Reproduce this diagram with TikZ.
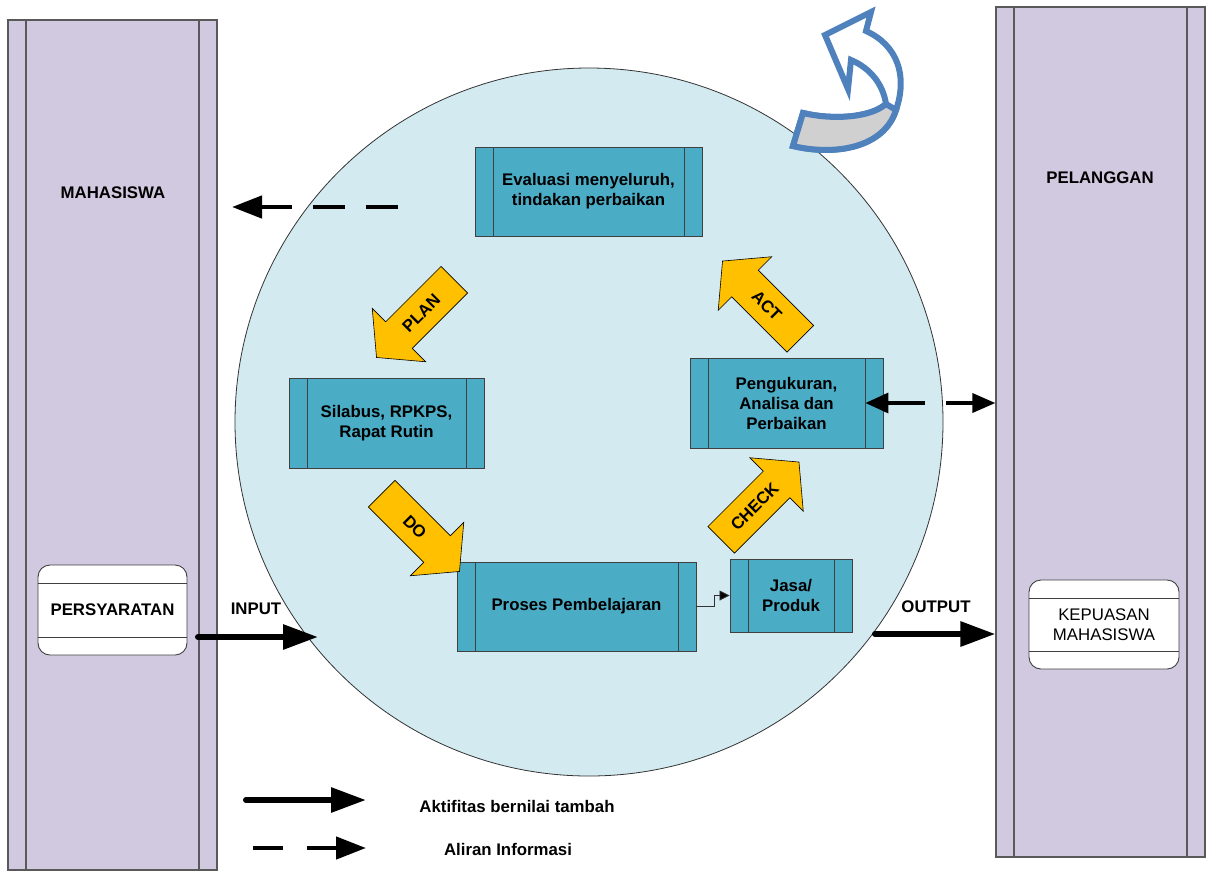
\documentclass[tikz,border=0pt]{standalone}
\usepackage{fontspec}
\setmainfont{Liberation Sans}
\usetikzlibrary{arrows.meta,shapes.arrows,positioning}

\definecolor{lanefill}{RGB}{209,201,224}
\definecolor{cyclefill}{RGB}{210,234,240}
\definecolor{procfill}{RGB}{75,172,198}
\definecolor{pdcagold}{RGB}{255,192,0}
\definecolor{turnblue}{RGB}{79,129,189}
\definecolor{bandgrey}{RGB}{208,208,208}

\newcommand\boldtext{\fontsize{16.8pt}{20pt}\selectfont\bfseries}
\newcommand\plaintext{\fontsize{16.8pt}{20pt}\selectfont}

\tikzset{
  lane/.style={draw=black!65, line width=1.2pt, fill=lanefill, inner sep=0pt,
    minimum width=209pt, minimum height=850pt,
    path picture={
      \draw[black!65, line width=1.2pt]
        ([xshift=18pt]path picture bounding box.north west) -- ([xshift=18pt]path picture bounding box.south west)
        ([xshift=-18pt]path picture bounding box.north east) -- ([xshift=-18pt]path picture bounding box.south east);}},
  procbox/.style={draw=black!75, line width=0.9pt, fill=procfill, inner sep=0pt,
    align=center, font=\boldtext,
    path picture={
      \draw[black!75, line width=0.9pt]
        ([xshift=18pt]path picture bounding box.north west) -- ([xshift=18pt]path picture bounding box.south west)
        ([xshift=-18pt]path picture bounding box.north east) -- ([xshift=-18pt]path picture bounding box.south east);}},
  databox/.style={draw=black!75, line width=0.9pt, fill=white, rounded corners=12pt,
    inner sep=0pt, align=center,
    path picture={
      \draw[black!75, line width=0.9pt]
        ([yshift=-18pt]path picture bounding box.north west) -- ([yshift=-18pt]path picture bounding box.north east)
        ([yshift=18pt]path picture bounding box.south west) -- ([yshift=18pt]path picture bounding box.south east);}},
  pdca/.style={single arrow, draw=black, line width=0.6pt, fill=pdcagold, font=\boldtext,
    text height=12pt, text depth=0pt, inner xsep=4pt, inner ysep=12.5pt,
    minimum height=110pt, single arrow head extend=19pt, single arrow tip angle=100},
  lanetext/.style={font=\boldtext},
  flow/.style={line width=6pt, line cap=round, -{Triangle[length=35pt,width=24pt]}},
  info/.style={line width=4.5pt, dash pattern=on 32pt off 21pt, -{Triangle[length=30pt,width=22pt]}},
}

\begin{document}
\begin{tikzpicture}[x=1pt, y=-1pt]
  \useasboundingbox (0,0) rectangle (1207,871);

  % lanes and cycle
  \node[lane] (mhs) at (112.5,445) {};
  \node[lane] (plg) at (1100.5,432) {};
  \node[circle, draw=black!80, line width=0.8pt, fill=cyclefill, minimum size=708pt, inner sep=0pt] (siklus) at (589,422) {};

  \node[lanetext] (mhs text) at (113,193) {MAHASISWA};
  \node[lanetext] (plg text) at (1100,178) {PELANGGAN};

  % process boxes
  \node[procbox, minimum width=227pt, minimum height=89pt] (evaluasi) at (588.5,191.5) {Evaluasi menyeluruh,\\tindakan perbaikan};
  \node[procbox, minimum width=195pt, minimum height=90pt] (silabus) at (386.5,423) {Silabus, RPKPS,\\Rapat Rutin};
  \node[procbox, minimum width=193pt, minimum height=90pt] (peng) at (786.5,403) {Pengukuran,\\Analisa dan\\Perbaikan};
  \node[procbox, minimum width=239pt, minimum height=89pt] (proses) at (576.5,606.5) {Proses Pembelajaran};
  \node[procbox, minimum width=122pt, minimum height=73pt] (jasa) at (791,595.5) {Jasa/\\Produk};

  \node[databox, minimum width=149pt, minimum height=90pt, font=\boldtext] (persy) at (112.5,610) {PERSYARATAN};
  \node[databox, minimum width=150pt, minimum height=89pt, font=\plaintext] (kepuasan) at (1104,624.5) {KEPUASAN\\MAHASISWA};

  % PDCA arrows
  \node[pdca, rotate=45, shape border rotate=180] (plan) at (421,313) {PLAN};
  \node[pdca, rotate=-45] (do) at (415,527) {DO};
  \node[pdca, rotate=45] (check) at (754.5,506.5) {CHECK};
  \node[pdca, rotate=-45, shape border rotate=180] (act) at (767,305.5) {ACT};

  % connectors
  \draw[black!80, line width=0.8pt, -{Triangle[length=10pt,width=10pt,fill=black]}] (proses.east) -- ++(18,0) |- (jasa.west);
  \draw[line width=3.5pt, dash pattern=on 37pt off 21pt, {Triangle[length=23pt,width=20pt]}-{Triangle[length=23pt,width=19pt]}]
    ([xshift=-18pt]peng.east) -- (peng.east -| plg.west);

  \coordinate (info from) at (398,207);
  \coordinate (info to) at (232,207);
  \draw[info] (info from) -- (info to);

  \coordinate (input from) at (198,637);
  \coordinate (input to) at (318,637);
  \draw[flow] (input from) -- (input to);
  \node[lanetext] (input text) at (256,609) {INPUT};

  \coordinate (output from) at (875,634);
  \draw[flow] (output from) -- (output from -| plg.west);
  \node[lanetext] (output text) at (936,607) {OUTPUT};

  % turn arrow
  \filldraw[draw=turnblue, line width=6pt, fill=white, line join=miter]
    (793,146) .. controls (835,156) and (884,148) .. (896,110)
    .. controls (908,75) and (897,45) .. (866,31)
    -- (871,12) -- (825,35) -- (848,89) -- (851,60)
    .. controls (870,68) and (883,84) .. (886,104)
    .. controls (870,118) and (832,120) .. (803,113) -- cycle;
  \filldraw[draw=turnblue, line width=6pt, fill=bandgrey, line join=miter]
    (793,146) .. controls (835,156) and (884,148) .. (896,110)
    -- (886,104) .. controls (870,118) and (832,120) .. (803,113) -- cycle;

  % legend
  \coordinate (key flow a) at (246,800);
  \coordinate (key flow b) at (366,800);
  \draw[flow] (key flow a) -- (key flow b);
  \node[lanetext] (key flow text) at (517,806) {Aktifitas bernilai tambah};
  \coordinate (key info a) at (253,848);
  \coordinate (key info b) at (366,848);
  \draw[info, dash pattern=on 30pt off 24pt] (key info a) -- (key info b);
  \node[lanetext] (key info text) at (508,849) {Aliran Informasi};
\end{tikzpicture}
\end{document}
